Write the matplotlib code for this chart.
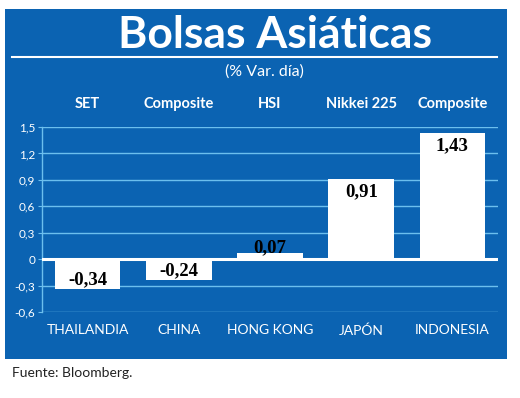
import matplotlib
matplotlib.use("Agg")
import matplotlib.pyplot as plt
import matplotlib.patches as mpatches
import matplotlib.transforms as mtransforms

countries = ["THAILANDIA", "CHINA", "HONG KONG", "JAPÓN", "INDONESIA"]
indices = ["SET", "Composite", "HSI", "Nikkei 225", "Composite"]
values = [-0.34, -0.24, 0.07, 0.91, 1.43]
value_labels = ["-0,34", "-0,24", "0,07", "0,91", "1,43"]
yticks = [-0.6, -0.3, 0, 0.3, 0.6, 0.9, 1.2, 1.5]
ytick_labels = ["-0,6", "-0,3", "0", "0,3", "0,6", "0,9", "1,2", "1,5"]

BLUE = "#0b63b2"
GRID = "#6cbfee"
SANS = ["Lato", "DejaVu Sans"]

fig = plt.figure(figsize=(5.2, 3.98), dpi=100)
fig.patch.set_facecolor("white")

# blue panel behind everything
fig.patches.append(mpatches.Rectangle((5 / 520, 1 - 359 / 398), 502 / 520, 350 / 398,
                                      transform=fig.transFigure, facecolor=BLUE,
                                      edgecolor="none", zorder=-10))
fig.add_artist(plt.Line2D([12 / 520, 497 / 520], [1 - 57 / 398] * 2, color="white",
                          linewidth=1.5, transform=fig.transFigure))

fig.text(275 / 520, 1 - 35 / 398, "Bolsas Asiáticas", color="white", fontsize=32,
         fontweight="bold", family=SANS, ha="center", va="center")
fig.text(264 / 520, 1 - 72 / 398, "(% Var. día)", color="white", fontsize=11.5,
         family=SANS, ha="center", va="center")

ax = fig.add_axes([42 / 520, 1 - 312 / 398, 456 / 520, 185 / 398])
ax.set_facecolor(BLUE)
x = range(len(values))
ax.set_xlim(-0.5, 4.5)
ax.set_ylim(-0.6, 1.5)

for t in yticks:
    if t != 0:
        ax.axhline(t, color=GRID, linewidth=1, zorder=1)
ax.bar(x, values, width=0.72, color="white", zorder=2)
ax.axhline(0, color="white", linewidth=2.2, zorder=3)

for i, (v, lab) in enumerate(zip(values, value_labels)):
    if abs(v) < 0.15:
        dy = 4
    elif v > 0:
        dy = -9
    else:
        dy = 7
    ax.annotate(lab, (i, v), xytext=(0, dy), textcoords="offset points",
                ha="center", va="center", fontsize=13.5, fontweight="bold",
                family="Liberation Serif", color="black", zorder=4)

trans = mtransforms.blended_transform_factory(ax.transData, fig.transFigure)
for i, name in enumerate(indices):
    ax.text(i, 1 - 104 / 398, name, transform=trans, ha="center", va="center",
            color="white", fontsize=10.5, fontweight="bold", family=SANS)

ax.set_xticks(list(x))
ax.set_xticklabels(countries, color="white", fontsize=10, family=SANS)
ax.set_yticks(yticks)
ax.set_yticklabels(ytick_labels, color="white", fontsize=8.5, family=SANS)
ax.tick_params(axis="x", length=0, pad=9)
ax.tick_params(axis="y", length=3, color=GRID, pad=2)
for s in ["top", "right", "bottom"]:
    ax.spines[s].set_visible(False)
ax.spines["left"].set_color(GRID)
ax.spines["left"].set_linewidth(1)

fig.text(12 / 520, 1 - 373 / 398, "Fuente: Bloomberg.", color="#222222", fontsize=10,
         family=SANS, ha="left", va="center")

fig.savefig("out.png", dpi=100, facecolor=fig.get_facecolor())
